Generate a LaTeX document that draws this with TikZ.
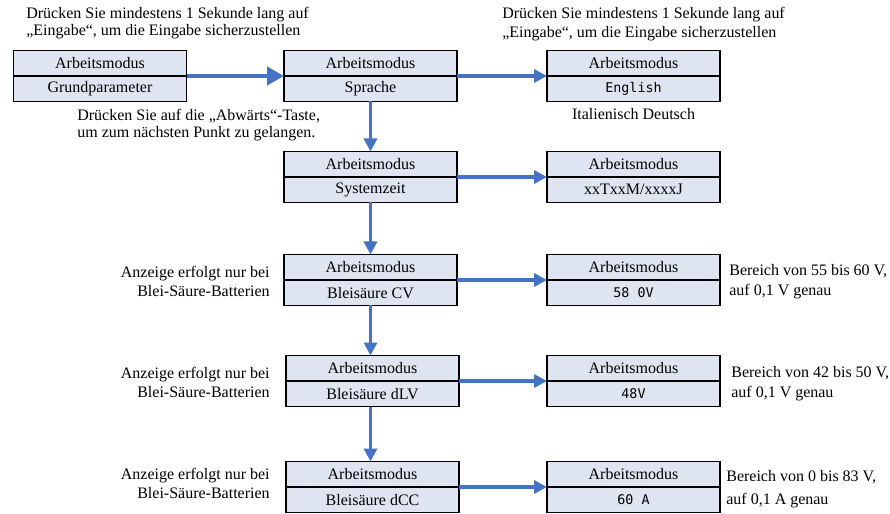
\documentclass[tikz,border=0pt]{standalone}
\usepackage{fontspec}
\setmainfont{Liberation Serif}
\newfontfamily\dispfont{DejaVu Sans Mono}
\usetikzlibrary{arrows.meta,positioning}
\definecolor{flowblue}{RGB}{68,114,196}
\definecolor{boxfill}{RGB}{223,229,240}

\begin{document}
\begin{tikzpicture}[
    font=\fontsize{9.1}{10}\selectfont,
    half/.style={
        draw, fill=boxfill,
        line width=1pt,
        inner sep=0pt, outer sep=0pt,
        minimum width=3.46cm,
        minimum height=0.51cm
    },
    disp/.style={
        font=\dispfont\fontsize{7.6}{9}\selectfont
    },
    flow/.style={
        flowblue, line width=1.9pt,
        -{Triangle[length=2.6mm,width=2.6mm]}
    },
    bigflow/.style={
        flowblue, line width=2.8pt,
        -{Triangle[length=3.4mm,width=3.6mm]}
    },
    note/.style={
        inner sep=0pt,
        align=left
    },
    sidenote/.style={
        inner sep=0pt,
        font=\fontsize{9.1}{11.2}\selectfont
    }
]

\useasboundingbox (0,0) rectangle (17.8,-10.28);


\node[half] (grund) at (2.00,-1.265) {Arbeitsmodus};
\node[half,below=0pt of grund] (grundv) {Grundparameter};

\node[half] (sprache) at (7.41,-1.265) {Arbeitsmodus};
\node[half,below=0pt of sprache] (sprachev) {Sprache};

\node[half] (engl) at (12.67,-1.265) {Arbeitsmodus};
\node[half,below=0pt of engl] (englv) {\dispfont\fontsize{7.6}{9}\selectfont English};

\draw[bigflow] (grund.south east) -- (sprache.south west);
\draw[flow] (sprache.south east) -- (engl.south west);

\node[note,anchor=west] (hintl) at (0.52,-0.46) {Drücken Sie mindestens 1 Sekunde lang auf\\„Eingabe“, um die Eingabe sicherzustellen};
\node[note,anchor=west,font=\fontsize{9.1}{11.2}\selectfont] (hintr) at (10.04,-0.48) {Drücken Sie mindestens 1 Sekunde lang auf\\„Eingabe“, um die Eingabe sicherzustellen};
\node[note,anchor=west,font=\fontsize{9.1}{9.4}\selectfont] (hintd) at (1.54,-2.50) {Drücken Sie auf die „Abwärts“-Taste,\\um zum nächsten Punkt zu gelangen.};
\node[inner sep=0pt,below=0.14cm of englv] (lang) {Italienisch Deutsch};


\node[half] (zeit) at (7.41,-3.285) {Arbeitsmodus};
\node[half,below=0pt of zeit] (zeitv) {Systemzeit};

\node[half] (zeitr) at (12.67,-3.285) {Arbeitsmodus};
\node[half,below=0pt of zeitr] (zeitrv) {xxTxxM/xxxxJ};

\draw[flow] (sprachev.south) -- (zeit.north);
\draw[flow] (zeit.south east) -- (zeitr.south west);


\node[half] (cv) at (7.41,-5.345) {Arbeitsmodus};
\node[half,below=0pt of cv] (cvv) {Bleisäure CV};

\node[half] (cvr) at (12.67,-5.345) {Arbeitsmodus};
\node[half,below=0pt of cvr,disp] (cvrv) {58 0V};

\draw[flow] (zeitv.south) -- (cv.north);
\draw[flow] (cv.south east) -- (cvr.south west);

\node[sidenote,align=right,anchor=east] at (5.40,-5.63) {Anzeige erfolgt nur bei\\Blei-Säure-Batterien};
\node[sidenote,align=left,anchor=west] at (14.58,-5.64) {Bereich von 55 bis 60 V,\\auf 0,1 V genau};


\node[half] (dlv) at (7.45,-7.365) {Arbeitsmodus};
\node[half,below=0pt of dlv] (dlvv) {Bleisäure dLV};

\node[half] (dlvr) at (12.67,-7.365) {Arbeitsmodus};
\node[half,below=0pt of dlvr,disp] (dlvrv) {48V};

\draw[flow] (cvv.south) -- (cvv.south |- dlv.north);
\draw[flow] (dlv.south east) -- (dlvr.south west);

\node[sidenote,align=right,anchor=east] at (5.40,-7.65) {Anzeige erfolgt nur bei\\Blei-Säure-Batterien};
\node[sidenote,align=left,anchor=west] at (14.62,-7.67) {Bereich von 42 bis 50 V,\\auf 0,1 V genau};


\node[half] (dcc) at (7.45,-9.485) {Arbeitsmodus};
\node[half,below=0pt of dcc] (dccv) {Bleisäure dCC};

\node[half] (dccr) at (12.67,-9.485) {Arbeitsmodus};
\node[half,below=0pt of dccr,disp] (dccrv) {60 A};

\draw[flow] (dlvv.south -| cvv.south) -- (cvv.south |- dcc.north);
\draw[flow] (dcc.south east) -- (dccr.south west);

\node[sidenote,align=right,anchor=east] at (5.40,-9.67) {Anzeige erfolgt nur bei\\Blei-Säure-Batterien};
\node[sidenote,align=left,anchor=west,font=\fontsize{9.1}{13}\selectfont] at (14.52,-9.79) {Bereich von 0 bis 83 V,\\auf 0,1 A genau};

\end{tikzpicture}
\end{document}
